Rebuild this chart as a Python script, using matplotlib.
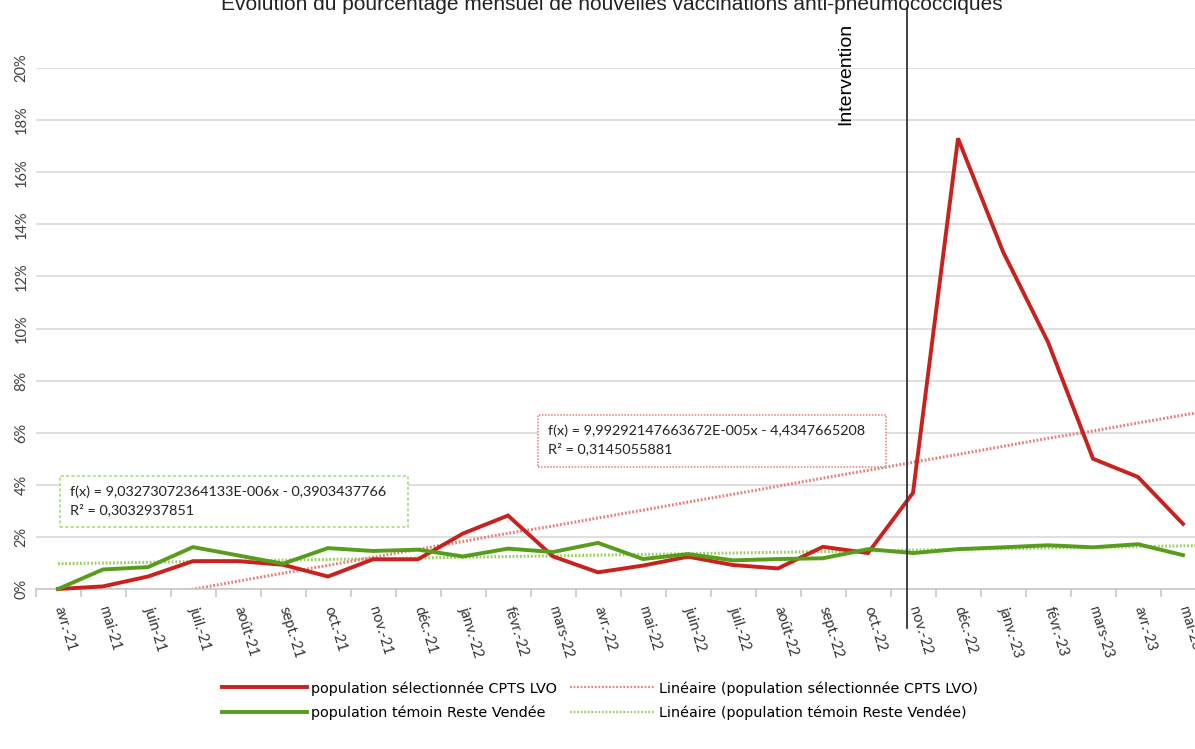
import numpy as np
import pandas as pd
import matplotlib
matplotlib.use("Agg")
import matplotlib.pyplot as plt
from matplotlib.patches import Rectangle
from matplotlib.lines import Line2D

# ---------------- data ----------------
months = ['avr.-21', 'mai-21', 'juin-21', 'juil.-21', 'août-21', 'sept.-21', 'oct.-21',
          'nov.-21', 'déc.-21', 'janv.-22', 'févr.-22', 'mars-22', 'avr.-22', 'mai-22',
          'juin-22', 'juil.-22', 'août-22', 'sept.-22', 'oct.-22', 'nov.-22', 'déc.-22',
          'janv.-23', 'févr.-23', 'mars-23', 'avr.-23', 'mai-23']
cpts_lvo = [0.0, 0.10, 0.48, 1.07, 1.07, 0.93, 0.48, 1.14, 1.14, 2.13, 2.82, 1.25, 0.64,
            0.90, 1.24, 0.92, 0.79, 1.62, 1.38, 3.69, 17.3, 12.95, 9.48, 5.0, 4.3, 2.5]
reste_vendee = [0.0, 0.75, 0.84, 1.61, 1.29, 0.97, 1.57, 1.46, 1.51, 1.25, 1.55, 1.42, 1.77,
                1.15, 1.34, 1.10, 1.15, 1.18, 1.53, 1.38, 1.53, 1.60, 1.68, 1.60, 1.72, 1.30]
# trend-line equations (x = spreadsheet date serial)
trend_lvo = (9.99292147663672e-05, -4.4347665208)
trend_rv = (9.03273072364133e-06, -0.3903437766)
eq_lvo = ["f(x) = 9,99292147663672E-005x - 4,4347665208", "R² = 0,3145055881"]
eq_rv = ["f(x) = 9,03273072364133E-006x - 0,3903437766", "R² = 0,3032937851"]
intervention_index = 18.87
yticks = [0, 2, 4, 6, 8, 10, 12, 14, 16, 18, 20]
title = "Evolution du pourcentage mensuel de nouvelles vaccinations anti-pneumococciques"
legend_labels = ["population sélectionnée CPTS LVO", "population témoin Reste Vendée",
                 "Linéaire (population sélectionnée CPTS LVO)",
                 "Linéaire (population témoin Reste Vendée)"]

# ---------------- layout ----------------
W, H = 1195, 749
fig = plt.figure(figsize=(W / 100, H / 100), dpi=100)
fig.patch.set_facecolor("white")

def fx(px):
    return px / W

def fy(py):
    return 1 - py / H

x0, x1 = 35.5, 1205.5
ybot, ytop = 589, 68
ax = fig.add_axes([fx(x0), fy(ybot), (x1 - x0) / W, (ybot - ytop) / H])

RED = "#C9211E"
GREEN = "#579D1C"
RED_T = "#E8807A"
GREEN_T = "#9BD060"

x = np.arange(len(months))
dates = pd.date_range("2021-04-01", periods=len(months), freq="MS")
serial = (dates - pd.Timestamp("1899-12-30")).days.values.astype(float)
t_lvo = (trend_lvo[0] * serial + trend_lvo[1]) * 100
t_rv = (trend_rv[0] * serial + trend_rv[1]) * 100
# extend half a category to the right edge
xt = np.append(x, x[-1] + 0.5)
t_lvo = np.append(t_lvo, t_lvo[-1] + 0.5 * (t_lvo[-1] - t_lvo[-2]))
t_rv = np.append(t_rv, t_rv[-1] + 0.5 * (t_rv[-1] - t_rv[-2]))

ax.plot(xt, t_rv, color=GREEN_T, lw=2.2, ls=(0, (0.6, 0.6)), zorder=2)
ax.plot(xt, t_lvo, color=RED_T, lw=2.2, ls=(0, (0.6, 0.6)), zorder=2)
ax.plot(x, cpts_lvo, color=RED, lw=2.8, zorder=3, clip_on=False, solid_joinstyle="miter")
ax.plot(x, reste_vendee, color=GREEN, lw=2.8, zorder=4, clip_on=False, solid_joinstyle="miter")

ax.set_xlim(-0.5, len(months) - 0.5)
ax.set_ylim(0, 20)

# grid / spines
for s in ["top", "right", "left"]:
    ax.spines[s].set_visible(False)
ax.spines["bottom"].set_color("#c8c8c8")
ax.spines["bottom"].set_linewidth(1.2)
ax.set_yticks(yticks)
ax.set_yticklabels([f"{v}%" for v in yticks], rotation=90, va="center", ha="center",
                   fontsize=10.5, color="#404040", family="Lato")
ax.tick_params(axis="y", length=0, pad=10)
ax.yaxis.grid(True, color="#d9d9d9", lw=1.2)
ax.set_axisbelow(True)

ax.set_xticks(x)
ax.set_xticklabels(months, rotation=-73, ha="left", va="center", rotation_mode="anchor",
                   fontsize=10.5, color="#333333", family="Lato")
ax.tick_params(axis="x", which="major", length=0, pad=13)
ax.set_xticks(np.arange(-0.5, len(months), 1), minor=True)
ax.tick_params(axis="x", which="minor", length=6, color="#c8c8c8", width=1.2)

# intervention line
ax.plot([intervention_index, intervention_index], [-1.5, 22.3], color="#333333",
        lw=1.3, clip_on=False, zorder=5)
ax.text(intervention_index - 1.37, 21.75, "Intervention", rotation=90, ha="center", va="top",
        fontsize=14, family="Liberation Sans", color="black")

# title
fig.text(fx(612), fy(10), title, ha="center", va="baseline", fontsize=15,
         family="Liberation Sans", color="#222222")

# equation boxes
def eq_box(xa, ya, xb, yb, color, ls, lines):
    r = Rectangle((fx(xa), fy(yb)), (xb - xa) / W, (yb - ya) / H, transform=fig.transFigure,
                  facecolor="white", edgecolor=color, lw=1.1, ls=ls, zorder=6)
    fig.add_artist(r)
    fig.text(fx(xa + 10), fy(ya + 16), lines[0], ha="left", va="center", fontsize=10.4,
             family="Lato", color="#222222", zorder=7)
    fig.text(fx(xa + 10), fy(ya + 34), lines[1], ha="left", va="center", fontsize=10.4,
             family="Lato", color="#222222", zorder=7)

eq_box(60, 476, 408, 527, "#a6d86e", (0, (2, 1.5)), eq_rv)
eq_box(538, 415, 886, 467, "#e87a7a", (0, (1, 1)), eq_lvo)

# legend
handles = [Line2D([], [], color=RED, lw=2.8), Line2D([], [], color=GREEN, lw=2.8),
           Line2D([], [], color=RED_T, lw=1.6, ls=(0, (0.8, 0.8))),
           Line2D([], [], color=GREEN_T, lw=1.6, ls=(0, (0.8, 0.8)))]
fig.legend(handles, legend_labels, ncol=2, loc="upper left",
           bbox_to_anchor=(fx(222), fy(681)), frameon=False,
           prop={"family": "DejaVu Sans", "size": 10.4}, handlelength=5.9, handletextpad=0.25,
           columnspacing=0.9, labelspacing=0.72, borderpad=0, borderaxespad=0)

fig.savefig("out.png", dpi=100, facecolor="white")
